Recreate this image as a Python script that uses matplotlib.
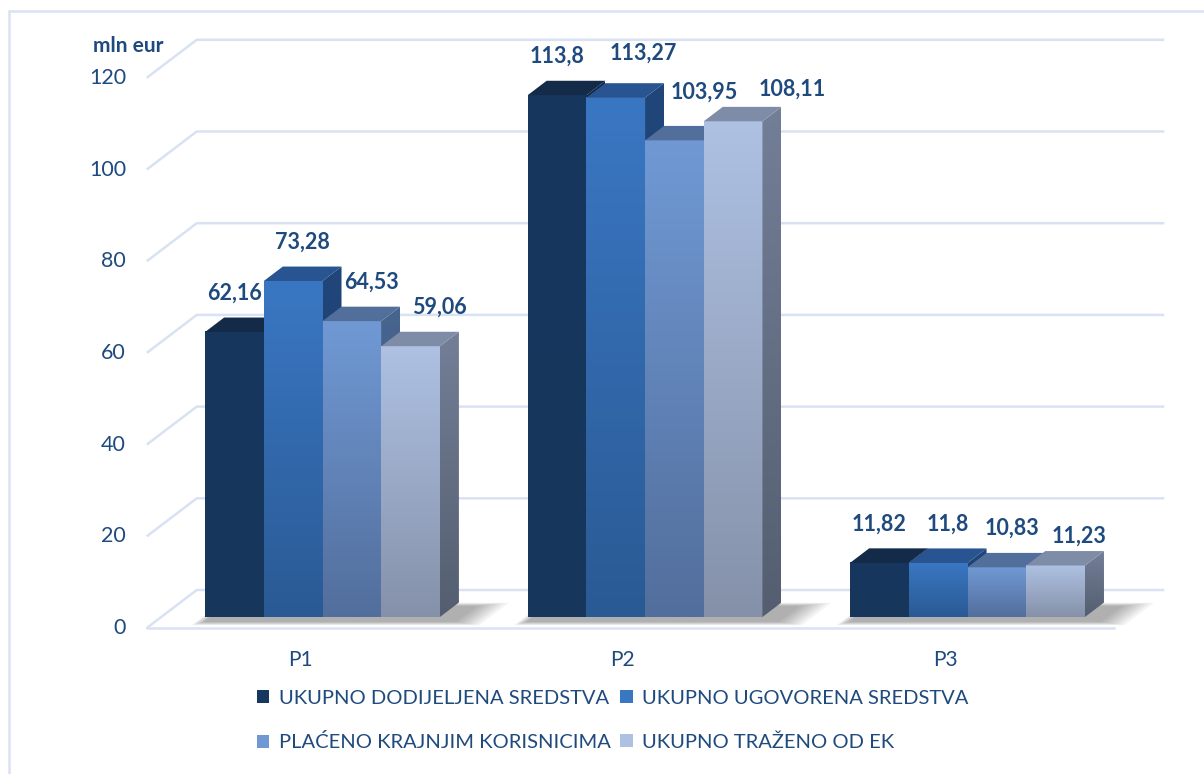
import matplotlib.pyplot as plt
import numpy as np
from matplotlib.patches import Polygon, Rectangle, Patch
from matplotlib.colors import LinearSegmentedColormap

plt.rcParams['font.family'] = ['Lato', 'DejaVu Sans']

# data
categories = ['P1', 'P2', 'P3']
series = ['UKUPNO DODIJELJENA SREDSTVA', 'UKUPNO UGOVORENA SREDSTVA',
          'PLAĆENO KRAJNJIM KORISNICIMA', 'UKUPNO TRAŽENO OD EK']
values = [
    [62.16, 113.8, 11.82],
    [73.28, 113.27, 11.8],
    [64.53, 103.95, 10.83],
    [59.06, 108.11, 11.23],
]
value_labels = [
    ['62,16', '113,8', '11,82'],
    ['73,28', '113,27', '11,8'],
    ['64,53', '103,95', '10,83'],
    ['59,06', '108,11', '11,23'],
]
yticks = [0, 20, 40, 60, 80, 100, 120]

# colours: front top, front bottom, top face, side top, side bottom
styles = [
    ('#17375e', '#17365c', '#132a49', '#13294a', '#10233d'),
    ('#3a77c3', '#2a5a94', '#285491', '#21467a', '#1c3b66'),
    ('#7099d4', '#526e9c', '#526f9c', '#48658f', '#3d5478'),
    ('#aec1e3', '#8591a9', '#7f8ca7', '#737f97', '#545e70'),
]
text_col = '#1f4a7e'
grid_col = '#d9e2f3'

# pseudo 3d geometry (data units)
DX, DY = 0.155, 8.29      # full floor depth
D0, D1 = 0.29, 0.67       # bar depth range
W = 0.182                 # bar width
lbl_dx = [0.0, 0.03, 0.06, 0.09]
# small manual label nudges (pixels) where the labels crowd each other
nudge = {(1, 1): (18, 5), (2, 1): (10, 9), (3, 1): (30, -7),
         (2, 2): (-4, 0), (3, 2): (-6, -10)}
PX_X, PX_Y = 1 / 322.5, 1 / 4.585


def proj(x, v, d):
    return (x + d * DX, v + d * DY)


fig = plt.figure(figsize=(12.04, 7.74), dpi=100)
ax = fig.add_axes([0, 0, 1, 1])
ax.set_xlim(-0.955, 2.778)
ax.set_ylim(-31.84, 136.97)
ax.axis('off')

# outer border
fig.patches.append(Rectangle((9 / 1204, -0.1), 1.2, 1.1 - 11 / 774,
                             transform=fig.transFigure, fill=False,
                             edgecolor=grid_col, lw=1.8, zorder=0))

# gridlines (left wall + back wall)
x_left, x_right = -0.5, 2.5
for v in yticks:
    p0 = proj(x_left, v, 0)
    p1 = proj(x_left, v, 1)
    p2 = proj(x_right, v, 1)
    ax.plot([p0[0], p1[0], p2[0]], [p0[1], p1[1], p2[1]],
            color=grid_col, lw=1.8, zorder=1, solid_capstyle='butt')
    ax.text(x_left - 0.064, v, str(v), ha='right', va='center',
            fontsize=15.5, color=text_col)
f0 = proj(x_left, 0, 0)
f1 = proj(x_right, 0, 0)
ax.plot([f0[0], f1[0]], [f0[1], f1[1]], color=grid_col, lw=1.8, zorder=1)

ax.text(x_left - 0.058, 127, 'mln eur', ha='center', va='center',
        fontsize=15, fontweight='bold', color=text_col)

n = len(series)
for ci, cat in enumerate(categories):
    gx0 = ci - n * W / 2
    gx1 = ci + n * W / 2
    # soft shadow on the floor
    for k in range(8):
        e = (8 - k) * 0.012
        pts = [proj(gx0 + 0.02 - e * 0.3, 0, D0 - 0.12 - e),
               proj(gx1 + 0.06 + e, 0, D0 - 0.12 - e),
               proj(gx1 + 0.06 + e, 0, D1 - 0.1 + e),
               proj(gx0 + 0.02 - e * 0.3, 0, D1 - 0.1 + e)]
        ax.add_patch(Polygon(pts, closed=True, facecolor='#000000',
                             edgecolor='none', alpha=0.045, zorder=2))
    ax.text(ci - 0.025, -7.0, cat, ha='center', va='center',
            fontsize=15, color=text_col)

    for si in range(n):
        h = values[si][ci]
        ftop, fbot, topc, stop, sbot = styles[si]
        x0 = gx0 + si * W
        x1 = x0 + W
        z = 3 + si
        # front face gradient
        fx0, fy0 = proj(x0, 0, D0)
        fx1, fy1 = proj(x1, h, D0)
        cmap = LinearSegmentedColormap.from_list('g', [fbot, ftop])
        grad = np.linspace(0, 1, 256).reshape(-1, 1)
        ax.imshow(grad, cmap=cmap, extent=[fx0, fx1, fy0, fy1],
                  origin='lower', aspect='auto', zorder=z,
                  interpolation='bilinear')
        # side face
        side = [proj(x1, 0, D0), proj(x1, h, D0), proj(x1, h, D1), proj(x1, 0, D1)]
        scmap = LinearSegmentedColormap.from_list('s', [sbot, stop])
        sx = [p[0] for p in side]
        sy = [p[1] for p in side]
        im = ax.imshow(grad, cmap=scmap,
                       extent=[min(sx), max(sx), min(sy), max(sy)],
                       origin='lower', aspect='auto', zorder=z,
                       interpolation='bilinear')
        sp = Polygon(side, closed=True, facecolor='none', edgecolor='none')
        ax.add_patch(sp)
        im.set_clip_path(sp)
        # top face
        top = [proj(x0, h, D0), proj(x1, h, D0), proj(x1, h, D1), proj(x0, h, D1)]
        ax.add_patch(Polygon(top, closed=True, facecolor=topc,
                             edgecolor='none', zorder=z))
        # value label
        nx, ny = nudge.get((si, ci), (0, 0))
        lx, ly = proj(x0 + W / 2 + lbl_dx[si], h, D0)
        ax.text(lx + nx * PX_X, ly + 8.5 + ny * PX_Y, value_labels[si][ci],
                ha='center', va='center', fontsize=15.5, fontweight='bold',
                color=text_col, zorder=10)

# legend, filled row by row
order = [0, 2, 1, 3]
handles = [Patch(facecolor=styles[i][0], edgecolor='none') for i in order]
labels = [series[i] for i in order]
fig.legend(handles, labels, loc='upper left',
           bbox_to_anchor=(257 / 1204, 1 - 690 / 774), ncol=2,
           frameon=False, labelcolor=text_col,
           prop={'family': 'Lato', 'size': 14.5},
           handlelength=0.62, handleheight=0.62, handletextpad=0.45,
           columnspacing=0.5, labelspacing=1.3, borderpad=0,
           borderaxespad=0)

fig.savefig('out.png', dpi=100)
